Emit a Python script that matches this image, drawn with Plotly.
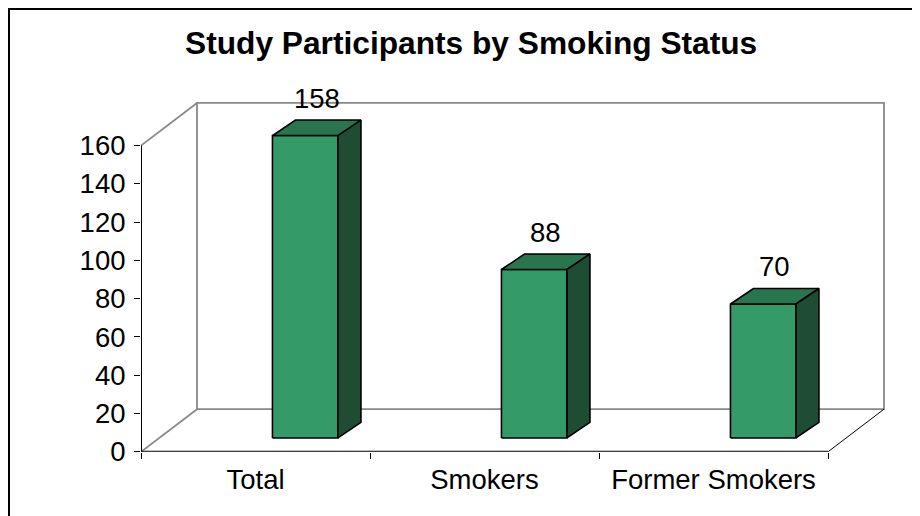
import plotly.graph_objects as go

# ---- data ----
categories = ["Total", "Smokers", "Former Smokers"]
values = [158, 88, 70]
y_ticks = [0, 20, 40, 60, 80, 100, 120, 140, 160]
title_text = "Study Participants by Smoking Status"

# ---- geometry / style ----
W, H = 920, 516
PAGE_OFF = 8              # page body margin in the browser
AX_LEFT_PX = 141 - PAGE_OFF      # pixel x of value axis
AX_BOTTOM_PX = 466 - PAGE_OFF    # pixel y of value 0
PX_PER_CAT = 229
PX_PER_UNIT = 1.975
Y_MAX = 160

WX = 56 / PX_PER_CAT      # wall depth in x units
WY = 44 / PX_PER_UNIT     # wall depth in value units
BAR_OFF = 0.074
BAR_W = 65.5 / PX_PER_CAT
BDX = 23 / PX_PER_CAT
BDY = 16 / PX_PER_UNIT
BASE = 14.3 / PX_PER_UNIT

FRONT = "rgb(52,154,104)"
TOP = "rgb(40,117,78)"
SIDE = "rgb(30,77,52)"
GRAY = "#888888"
FONT = "Liberation Sans, Arial, sans-serif"
LABEL_SIZE = 27.5
TITLE_SIZE = 31.7

x_range = [-0.5, -0.5 + (W - AX_LEFT_PX) / PX_PER_CAT]
y_range = [0, AX_BOTTOM_PX / PX_PER_UNIT]

fig = go.Figure()

n = len(categories)
L, R = -0.5, n - 0.5

# bars as 3D boxes
for i, v in enumerate(values):
    x0 = i + BAR_OFF
    x1 = x0 + BAR_W
    b = BASE
    t = BASE + v
    faces = [
        ([x0, x1, x1, x0, x0], [b, b, t, t, b], FRONT),
        ([x0, x1, x1 + BDX, x0 + BDX, x0], [t, t, t + BDY, t + BDY, t], TOP),
        ([x1, x1 + BDX, x1 + BDX, x1, x1], [b, b + BDY, t + BDY, t, b], SIDE),
    ]
    for xs, ys, col in faces:
        fig.add_trace(go.Scatter(x=xs, y=ys, mode="lines", fill="toself",
                                 fillcolor=col, line=dict(color="black", width=1.6),
                                 hoverinfo="skip", showlegend=False))
    fig.add_annotation(x=x0 + (BAR_W + BDX) / 2, y=t + BDY, text=str(v),
                       showarrow=False, yanchor="middle", yshift=22,
                       font=dict(family=FONT, size=LABEL_SIZE, color="black"))

shapes = []
# back wall and side lines (gray)
shapes.append(dict(type="rect", xref="x", yref="y", x0=L + WX, x1=R + WX,
                   y0=WY, y1=Y_MAX + WY, line=dict(color=GRAY, width=1.8), layer="below"))
shapes.append(dict(type="line", xref="x", yref="y", x0=L, y0=0, x1=L + WX, y1=WY,
                   line=dict(color=GRAY, width=1.8), layer="below"))
shapes.append(dict(type="line", xref="x", yref="y", x0=L, y0=Y_MAX, x1=L + WX, y1=Y_MAX + WY,
                   line=dict(color=GRAY, width=1.8), layer="below"))
# floor right edge (thin black)
shapes.append(dict(type="line", xref="x", yref="y", x0=R, y0=0, x1=R + WX, y1=WY,
                   line=dict(color="black", width=1), layer="below"))
# axes lines
shapes.append(dict(type="line", xref="x", yref="y", x0=L, y0=0, x1=L, y1=Y_MAX,
                   line=dict(color="black", width=2)))
shapes.append(dict(type="line", xref="x", yref="y", x0=L, y0=0, x1=R, y1=0,
                   line=dict(color="black", width=2)))
# outer frame
shapes.append(dict(type="rect", xref="paper", yref="paper", x0=(9 - PAGE_OFF) / W, x1=1.05,
                   y0=-0.05, y1=1 - 1 / H, line=dict(color="black", width=2)))

fig.add_annotation(x=(471 - PAGE_OFF) / W, y=1 - (44 - PAGE_OFF) / H, xref="paper", yref="paper",
                   text=title_text, showarrow=False, yanchor="middle",
                   font=dict(family=FONT, size=TITLE_SIZE, color="black", weight="bold"))

fig.update_layout(
    width=W, height=H, autosize=False,
    margin=dict(l=0, r=0, t=0, b=0),
    paper_bgcolor="white", plot_bgcolor="rgba(0,0,0,0)",
    shapes=shapes, showlegend=False,
    xaxis=dict(domain=[AX_LEFT_PX / W, 1], range=x_range, showgrid=False,
               zeroline=False, showline=False,
               tickvals=list(range(n)), ticktext=categories, ticks="",
               tickfont=dict(family=FONT, size=LABEL_SIZE, color="black"),
               ticklabelstandoff=9,
               minor=dict(tickvals=[k - 0.5 for k in range(n + 1)], ticks="outside",
                          ticklen=6, tickcolor="black", tickwidth=1.2, showgrid=False)),
    yaxis=dict(domain=[(H - AX_BOTTOM_PX) / H, 1], range=y_range, showgrid=False,
               zeroline=False, showline=False, tickvals=y_ticks,
               ticks="outside", ticklen=6, tickcolor="black", tickwidth=1.2,
               tickfont=dict(family=FONT, size=LABEL_SIZE, color="black"),
               ticklabelstandoff=3),
)

fig.write_html("out.html")
